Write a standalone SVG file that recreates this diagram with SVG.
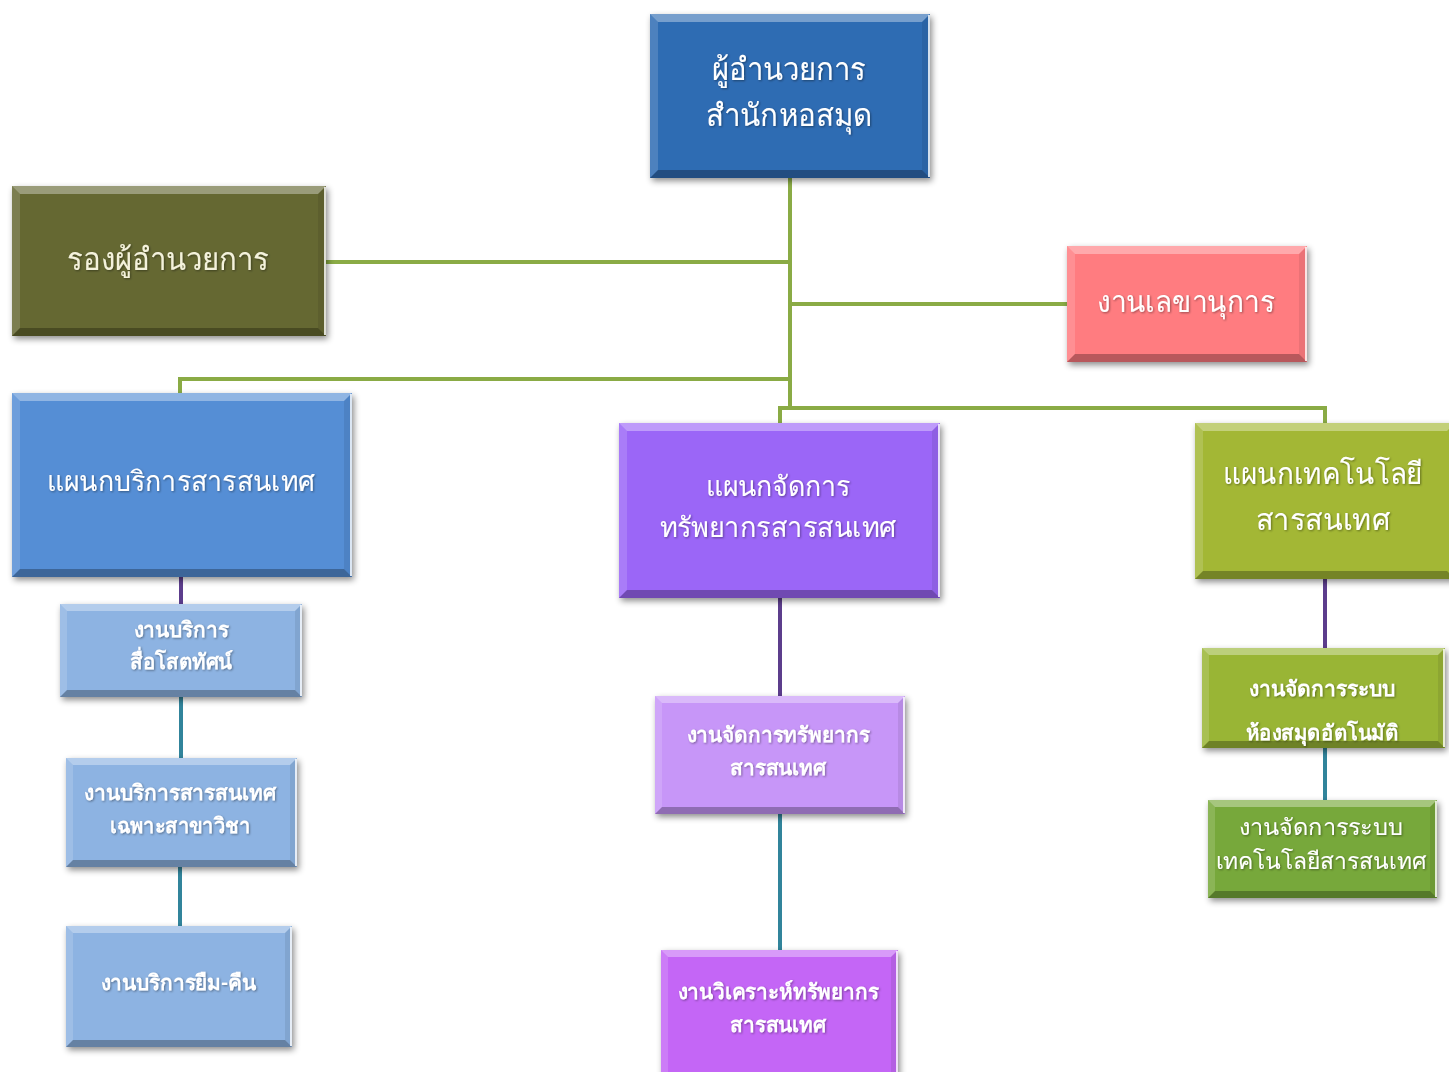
<svg xmlns="http://www.w3.org/2000/svg" width="1449" height="1072" viewBox="0 0 1449 1072">
<style>
.t{font-family:"Noto Sans","DejaVu Sans",sans-serif;fill:#ffffff;text-anchor:middle;}
.s{font-weight:600}
.hl{fill:#ffffff;fill-opacity:0.35}
.lf{fill:#ffffff;fill-opacity:0.15}
.rt{fill:#000000;fill-opacity:0.08}
.bt{fill:#000000;fill-opacity:0.28}
.edge{stroke:#ffffff;stroke-opacity:0.8;stroke-width:2}
.g{stroke:#8aab45;stroke-width:4;fill:none}
.p{stroke:#5c3d8c;stroke-width:4;fill:none}
.c{stroke:#31849b;stroke-width:4;fill:none}
</style>
<defs>
<filter id="sh" x="-10%" y="-10%" width="125%" height="130%">
<feDropShadow dx="2" dy="3" stdDeviation="3" flood-color="#000" flood-opacity="0.45"/>
</filter>
<filter id="ts"><feDropShadow dx="1" dy="1" stdDeviation="1" flood-color="#000" flood-opacity="0.4"/></filter>
</defs>
<rect width="1449" height="1072" fill="#ffffff"/>
<g id="connectors">
<path class="g" d="M790 178V408"/>
<path class="g" d="M326 262H790"/>
<path class="g" d="M790 304H1067"/>
<path class="g" d="M180 393V379H790"/>
<path class="g" d="M780 423V408H1325V423"/>
<path class="p" d="M181 577V604"/>
<path class="c" d="M181 697V758"/>
<path class="c" d="M180 867V926"/>
<path class="p" d="M780 598V696"/>
<path class="c" d="M780 814V950"/>
<path class="p" d="M1325 579V648"/>
<path class="c" d="M1325 748V800"/>
</g>
<g id="director" filter="url(#sh)">
<rect x="650" y="14" width="280" height="164" fill="#2f6cb3"/>
<polygon class="hl" points="650,14 930,14 922,22 658,22"/>
<polygon class="lf" points="650,14 658,22 658,170 650,178"/>
<polygon class="rt" points="930,14 930,178 922,170 922,22"/>
<polygon class="bt" points="650,178 930,178 922,170 658,170"/>
<line class="edge" x1="929" y1="15" x2="929" y2="177"/>
<text class="t" filter="url(#ts)" font-size="31" x="789" y="80" textLength="154" lengthAdjust="spacingAndGlyphs">ผู้อำนวยการ</text>
<text class="t" filter="url(#ts)" font-size="31" x="789" y="126" textLength="166" lengthAdjust="spacingAndGlyphs">สำนักหอสมุด</text>
</g>
<g id="deputy" filter="url(#sh)">
<rect x="12" y="186" width="314" height="150" fill="#656833"/>
<polygon class="hl" points="12,186 326,186 318,194 20,194"/>
<polygon class="lf" points="12,186 20,194 20,328 12,336"/>
<polygon class="rt" points="326,186 326,336 318,328 318,194"/>
<polygon class="bt" points="12,336 326,336 318,328 20,328"/>
<line class="edge" x1="325" y1="187" x2="325" y2="335"/>
<text class="t" filter="url(#ts)" font-size="31" x="168" y="270" textLength="203" lengthAdjust="spacingAndGlyphs" style="fill:#f4f2dc">รองผู้อำนวยการ</text>
</g>
<g id="secretary" filter="url(#sh)">
<rect x="1067" y="246" width="240" height="116" fill="#ff7c80"/>
<polygon class="hl" points="1067,246 1307,246 1299,254 1075,254"/>
<polygon class="lf" points="1067,246 1075,254 1075,354 1067,362"/>
<polygon class="rt" points="1307,246 1307,362 1299,354 1299,254"/>
<polygon class="bt" points="1067,362 1307,362 1299,354 1075,354"/>
<line class="edge" x1="1306" y1="247" x2="1306" y2="361"/>
<text class="t" filter="url(#ts)" font-size="29" x="1186" y="312" textLength="178" lengthAdjust="spacingAndGlyphs">งานเลขานุการ</text>
</g>
<g id="svc-dept" filter="url(#sh)">
<rect x="12" y="393" width="340" height="184" fill="#558ed5"/>
<polygon class="hl" points="12,393 352,393 344,401 20,401"/>
<polygon class="lf" points="12,393 20,401 20,569 12,577"/>
<polygon class="rt" points="352,393 352,577 344,569 344,401"/>
<polygon class="bt" points="12,577 352,577 344,569 20,569"/>
<line class="edge" x1="351" y1="394" x2="351" y2="576"/>
<text class="t" filter="url(#ts)" font-size="28" x="181" y="491" textLength="268" lengthAdjust="spacingAndGlyphs">แผนกบริการสารสนเทศ</text>
</g>
<g id="res-dept" filter="url(#sh)">
<rect x="619" y="423" width="321" height="175" fill="#9b66f7"/>
<polygon class="hl" points="619,423 940,423 932,431 627,431"/>
<polygon class="lf" points="619,423 627,431 627,590 619,598"/>
<polygon class="rt" points="940,423 940,598 932,590 932,431"/>
<polygon class="bt" points="619,598 940,598 932,590 627,590"/>
<line class="edge" x1="939" y1="424" x2="939" y2="597"/>
<text class="t" filter="url(#ts)" font-size="28" x="778" y="496" textLength="145" lengthAdjust="spacingAndGlyphs">แผนกจัดการ</text>
<text class="t" filter="url(#ts)" font-size="28" x="778" y="537" textLength="237" lengthAdjust="spacingAndGlyphs">ทรัพยากรสารสนเทศ</text>
</g>
<g id="tech-dept" filter="url(#sh)">
<rect x="1195" y="423" width="260" height="156" fill="#a3b734"/>
<polygon class="hl" points="1195,423 1455,423 1447,431 1203,431"/>
<polygon class="lf" points="1195,423 1203,431 1203,571 1195,579"/>
<polygon class="bt" points="1195,579 1455,579 1447,571 1203,571"/>
<text class="t" filter="url(#ts)" font-size="30" x="1323" y="484" textLength="200" lengthAdjust="spacingAndGlyphs">แผนกเทคโนโลยี</text>
<text class="t" filter="url(#ts)" font-size="30" x="1323" y="530" textLength="134" lengthAdjust="spacingAndGlyphs">สารสนเทศ</text>
</g>
<g id="av" filter="url(#sh)">
<rect x="60" y="604" width="242" height="93" fill="#8db3e2"/>
<polygon class="hl" points="60,604 302,604 295,611 67,611"/>
<polygon class="lf" points="60,604 67,611 67,690 60,697"/>
<polygon class="rt" points="302,604 302,697 295,690 295,611"/>
<polygon class="bt" points="60,697 302,697 295,690 67,690"/>
<line class="edge" x1="301" y1="605" x2="301" y2="696"/>
<text class="t s" filter="url(#ts)" font-size="21" x="181" y="637" textLength="95" lengthAdjust="spacingAndGlyphs">งานบริการ</text>
<text class="t s" filter="url(#ts)" font-size="21" x="181" y="669" textLength="102" lengthAdjust="spacingAndGlyphs">สื่อโสตทัศน์</text>
</g>
<g id="spec" filter="url(#sh)">
<rect x="66" y="758" width="231" height="109" fill="#8db3e2"/>
<polygon class="hl" points="66,758 297,758 290,765 73,765"/>
<polygon class="lf" points="66,758 73,765 73,860 66,867"/>
<polygon class="rt" points="297,758 297,867 290,860 290,765"/>
<polygon class="bt" points="66,867 297,867 290,860 73,860"/>
<line class="edge" x1="296" y1="759" x2="296" y2="866"/>
<text class="t s" filter="url(#ts)" font-size="21" x="180" y="800" textLength="192" lengthAdjust="spacingAndGlyphs">งานบริการสารสนเทศ</text>
<text class="t s" filter="url(#ts)" font-size="21" x="180" y="833" textLength="140" lengthAdjust="spacingAndGlyphs">เฉพาะสาขาวิชา</text>
</g>
<g id="loan" filter="url(#sh)">
<rect x="66" y="926" width="226" height="121" fill="#8db3e2"/>
<polygon class="hl" points="66,926 292,926 285,933 73,933"/>
<polygon class="lf" points="66,926 73,933 73,1040 66,1047"/>
<polygon class="rt" points="292,926 292,1047 285,1040 285,933"/>
<polygon class="bt" points="66,1047 292,1047 285,1040 73,1040"/>
<line class="edge" x1="291" y1="927" x2="291" y2="1046"/>
<text class="t s" filter="url(#ts)" font-size="21" x="178" y="990" textLength="155" lengthAdjust="spacingAndGlyphs">งานบริการยืม-คืน</text>
</g>
<g id="res-mgmt" filter="url(#sh)">
<rect x="655" y="696" width="250" height="118" fill="#c796f8"/>
<polygon class="hl" points="655,696 905,696 898,703 662,703"/>
<polygon class="lf" points="655,696 662,703 662,807 655,814"/>
<polygon class="rt" points="905,696 905,814 898,807 898,703"/>
<polygon class="bt" points="655,814 905,814 898,807 662,807"/>
<line class="edge" x1="904" y1="697" x2="904" y2="813"/>
<text class="t s" filter="url(#ts)" font-size="21" x="778" y="742" textLength="183" lengthAdjust="spacingAndGlyphs">งานจัดการทรัพยากร</text>
<text class="t s" filter="url(#ts)" font-size="21" x="778" y="775" textLength="96" lengthAdjust="spacingAndGlyphs">สารสนเทศ</text>
</g>
<g id="analysis" filter="url(#sh)">
<rect x="661" y="950" width="237" height="130" fill="#c466f6"/>
<polygon class="hl" points="661,950 898,950 891,957 668,957"/>
<polygon class="lf" points="661,950 668,957 668,1080 661,1080"/>
<polygon class="rt" points="898,950 898,1080 891,1080 891,957"/>
<line class="edge" x1="897" y1="951" x2="897" y2="1080"/>
<text class="t s" filter="url(#ts)" font-size="21" x="778" y="999" textLength="201" lengthAdjust="spacingAndGlyphs">งานวิเคราะห์ทรัพยากร</text>
<text class="t s" filter="url(#ts)" font-size="21" x="778" y="1032" textLength="96" lengthAdjust="spacingAndGlyphs">สารสนเทศ</text>
</g>
<g id="auto-lib" filter="url(#sh)">
<rect x="1202" y="648" width="243" height="100" fill="#99b536"/>
<polygon class="hl" points="1202,648 1445,648 1438,655 1209,655"/>
<polygon class="lf" points="1202,648 1209,655 1209,741 1202,748"/>
<polygon class="rt" points="1445,648 1445,748 1438,741 1438,655"/>
<polygon class="bt" points="1202,748 1445,748 1438,741 1209,741"/>
<line class="edge" x1="1444" y1="649" x2="1444" y2="747"/>
<text class="t s" filter="url(#ts)" font-size="21" x="1322" y="696" textLength="146" lengthAdjust="spacingAndGlyphs">งานจัดการระบบ</text>
<text class="t s" filter="url(#ts)" font-size="21" x="1322" y="740" textLength="153" lengthAdjust="spacingAndGlyphs">ห้องสมุดอัตโนมัติ</text>
</g>
<g id="it-sys" filter="url(#sh)">
<rect x="1208" y="800" width="229" height="98" fill="#77a83a"/>
<polygon class="hl" points="1208,800 1437,800 1430,807 1215,807"/>
<polygon class="lf" points="1208,800 1215,807 1215,891 1208,898"/>
<polygon class="rt" points="1437,800 1437,898 1430,891 1430,807"/>
<polygon class="bt" points="1208,898 1437,898 1430,891 1215,891"/>
<line class="edge" x1="1436" y1="801" x2="1436" y2="897"/>
<text class="t" filter="url(#ts)" font-size="23" x="1321" y="835" textLength="165" lengthAdjust="spacingAndGlyphs">งานจัดการระบบ</text>
<text class="t" filter="url(#ts)" font-size="23" x="1321" y="869" textLength="211" lengthAdjust="spacingAndGlyphs">เทคโนโลยีสารสนเทศ</text>
</g>
</svg>
